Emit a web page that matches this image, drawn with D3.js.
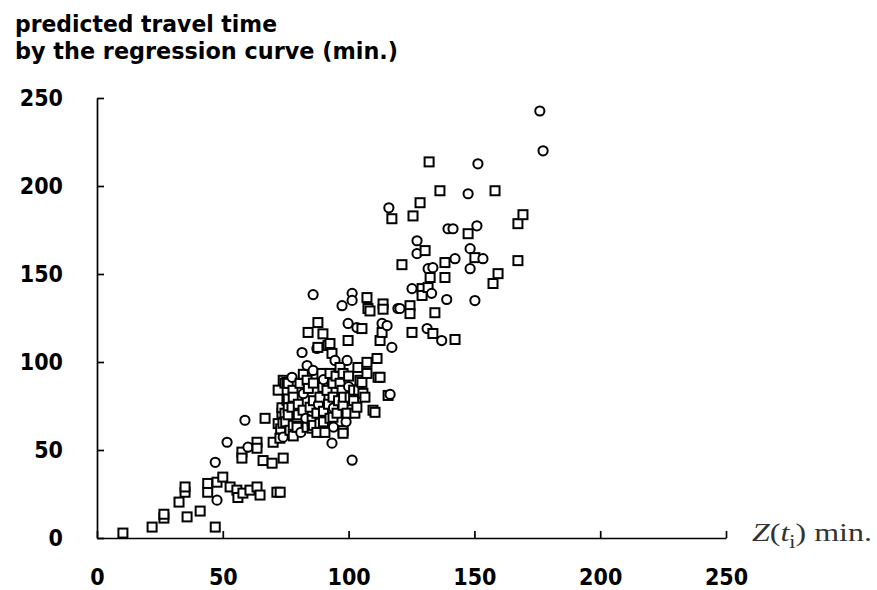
<!DOCTYPE html>
<html>
<head>
<meta charset="utf-8">
<script src="https://cdn.jsdelivr.net/npm/d3@7/dist/d3.min.js"></script>
<style>
  html, body { margin: 0; padding: 0; background: #fff; }
  svg { display: block; }
</style>
</head>
<body>
<svg id="chart" width="877" height="590"></svg>
<script>
// ---------------- data ----------------
const titleLines = ["predicted travel time", "by the regression curve (min.)"];
const xTicks = [0, 50, 100, 150, 200, 250];
const yTicks = [0, 50, 100, 150, 200, 250];

// series drawn with circle markers: [z(t_i), predicted]
const circlePoints = [
  [47.7,21.5],[47,43],[51.7,54.4],[60,51.6],[58.8,66.9],[74,57.3],[77.5,91.3],
  [83.5,98],[85.9,95.2],[81.5,105.4],[87.4,107.7],[85.9,138.3],[94.6,100.9],
  [99.4,100.9],[93.4,53.9],[101.4,44.2],[99.8,121.9],[103.3,119.6],[97.4,132],
  [101.4,139],[101.4,135],[113.3,121.9],[115.3,120.7],[116.5,81.6],[116,187.6],
  [151.4,212.6],[147.5,195.6],[139.5,175.7],[141.5,175.7],[151,177.4],[127.2,168.9],
  [127.2,161.6],[131.6,153],[133.5,153.6],[142.3,158.7],[148.3,164.4],[153.4,158.7],
  [148.3,153],[125.2,141.7],[133,139],[139,135.5],[150.2,134.9],[119.6,130.4],
  [131.2,119],[137,112.2],[117.2,108.3],[176,242.6],[177.3,220],[120.4,130.4],
  [82,82],[88,76],[94,74],[100,86],[90,90],[83,68],[94,63],[81,60],[99,66]
];

// series drawn with square markers
const squarePoints = [
  [10.3,2.8],[21.9,6.2],[26.6,11.3],[26.6,13.5],[35.8,12],[41,15.3],[47,6.2],
  [32.6,20.4],[35,26],[35,29],[44,26],[44,31],[47.7,31.7],[50,34.6],[52.9,29],
  [56,23],[57.6,48.8],[57.6,45.4],[63.6,54.4],[63.6,51],[66.8,68],[60.8,27.2],
  [63.6,29],[64.8,24.4],[58,25.5],[55.6,27.2],[66,44],[69.6,42.5],[74,45.4],
  [71.5,26],[72.8,26],[70,54.4],[72.7,56.7],[73.5,70.9],[73.5,74],[72,84],[74.7,88],
  [75.5,88.4],[76,79],[76,74],[76,70],[74,89.6],[76,87.9],[83.5,89.6],[80.7,87.9],
  [77.9,83.9],[91.8,109.4],[87.8,108.3],[89.8,116],[92.6,110.5],[83.9,116.8],
  [87.8,122.4],[93.4,104.9],[97.8,93.5],[103.7,96.9],[104.5,89.6],[107.3,93.5],
  [105.7,82.2],[106.5,80],[100.6,80],[97.8,75.4],[99.4,70.9],[103.3,74.3],
  [102.5,70.9],[91.4,83.9],[93.8,80],[88.6,80],[96.6,87.9],[97.4,83.9],[96.6,96.9],
  [92.6,93.5],[93.8,87.9],[89.4,93.5],[89.8,85.6],[75.5,78.2],[77.5,74.3],[74.7,70.9],
  [79.5,68.6],[81.9,72.6],[84.7,74.3],[87.4,70.9],[85.5,66.9],[83.5,62.9],[88.6,65.2],
  [92.6,68],[95.4,70.9],[79.5,62.9],[73.9,65.2],[76.7,61.2],[72,65],[78,64],
  [97.8,61],[97.8,59.5],[109.7,72.6],[115.7,81],[93.8,68.6],[90.6,60],[87.4,60],
  [85.5,62.4],[105.3,88.4],[111.7,91.3],[107.3,99.8],[111.3,102],[99.8,112.2],
  [107.3,136.6],[107.7,130.4],[108.5,129],[113.7,133],[113.7,130],[113.3,116.8],
  [112.5,112.2],[105.3,119],[112.5,91.3],[110.5,71.4],
  [78,80],[80,76],[84,85],[86,78],[90,72],[92,76],[96,78],[98,80],[102,84],
  [100,92],[95,92],[86,88],[82,93],[80,70],[86,64],[90,66],[78,58],[73,62],
  [75,66],[102,78],[104,84],
  [132,213.7],[136.3,197.3],[158.2,197.3],[117.2,181.4],[128.4,190.5],[125.6,183],
  [169.3,183.7],[167.3,178.6],[147.5,172.9],[130.4,163.3],[121.2,155.3],[138.3,156.5],
  [150.2,159.3],[167.3,157.6],[138.3,148],[159.4,150.2],[157.4,144.6],[132.4,148],
  [131.6,142.3],[129.2,141.7],[129.2,137.8],[124.4,132],[124.4,127.5],[134.3,128],
  [125.2,116.8],[133.5,116.2],[142.3,112.8]
];

// ---------------- drawing ----------------
const svg = d3.select("#chart");
const x = d3.scaleLinear().domain([0, 250]).range([97, 726]);
const y = d3.scaleLinear().domain([0, 250]).range([538, 98]);

const tickFont = "'DejaVu Sans Condensed', 'DejaVu Sans', sans-serif";

// title
const titleX = [15, 15], titleY = [32, 59], titleW = [262, 383];
titleLines.forEach((t, i) => {
  svg.append("text")
    .attr("x", titleX[i]).attr("y", titleY[i])
    .attr("textLength", titleW[i]).attr("lengthAdjust", "spacingAndGlyphs")
    .style("font-family", tickFont).style("font-weight", "bold")
    .style("font-size", "23px").attr("fill", "#000")
    .text(t);
});

// axes
const xAxis = d3.axisBottom(x).tickValues(xTicks).tickSizeInner(-7).tickSizeOuter(0).tickPadding(31);
const yAxis = d3.axisLeft(y).tickValues(yTicks).tickSizeInner(-7).tickSizeOuter(0).tickPadding(34);

const gx = svg.append("g").attr("transform", `translate(0,${y(0)})`).call(xAxis);
const gy = svg.append("g").attr("transform", `translate(${x(0)},0)`).call(yAxis);

[gx, gy].forEach(g => {
  g.selectAll("path.domain").attr("stroke", "#000").attr("stroke-width", 1.7);
  g.selectAll(".tick line").attr("stroke", "#000").attr("stroke-width", 1.7);
  g.selectAll(".tick text")
    .style("font-family", tickFont).style("font-weight", "bold")
    .style("font-size", "23px").attr("fill", "#000");
});

// x-axis label
const xl = svg.append("text")
  .attr("x", 752).attr("y", 541)
  .attr("textLength", 120).attr("lengthAdjust", "spacingAndGlyphs")
  .style("font-family", "'Liberation Serif', 'Times New Roman', serif")
  .style("font-size", "26px").attr("fill", "#333");
xl.append("tspan").style("font-style", "italic").text("Z");
xl.append("tspan").text("(");
xl.append("tspan").style("font-style", "italic").text("t");
xl.append("tspan").attr("dy", 7).style("font-size", "18px").text("i");
xl.append("tspan").attr("dy", -7).text(") min.");

// points
const pts = svg.append("g");
const all = circlePoints.map(d => ({d, s: "c"})).concat(squarePoints.map(d => ({d, s: "s"})));
all.sort((a, b) => a.d[0] - b.d[0]);
all.forEach(p => {
  const cx = x(p.d[0]), cy = y(p.d[1]);
  if (p.s === "c") {
    pts.append("circle").attr("cx", cx).attr("cy", cy).attr("r", 4.6)
      .attr("fill", "#fff").attr("stroke", "#000").attr("stroke-width", 2);
  } else {
    pts.append("rect").attr("x", cx - 4.5).attr("y", cy - 4.5)
      .attr("width", 9).attr("height", 9)
      .attr("fill", "#fff").attr("stroke", "#000").attr("stroke-width", 2);
  }
});
</script>
</body>
</html>
